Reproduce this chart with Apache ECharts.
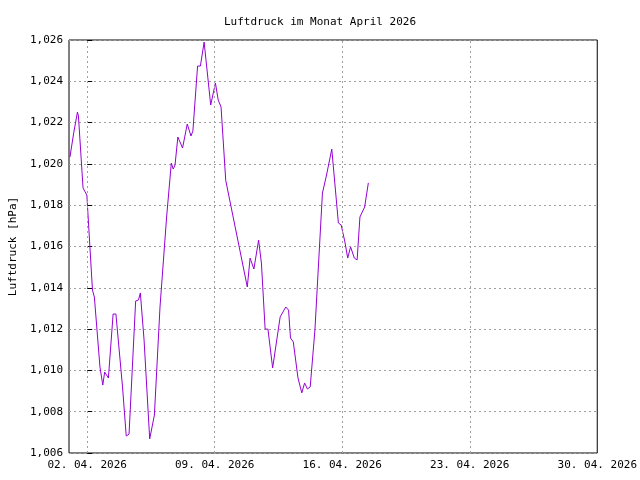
<!DOCTYPE html>
<html>
<head>
<meta charset="utf-8">
<script src="https://cdn.jsdelivr.net/npm/echarts@6/dist/echarts.min.js"></script>
<style>html,body{margin:0;padding:0;background:#fff}#chart{width:640px;height:480px}</style>
</head>
<body>
<div id="chart"></div>
<script>
// Stunden seit 02.04.2026 00:00
var hours = [1.2, 6.2, 11.1, 12.4, 18.5, 23.5, 30.9, 33.4, 40.8, 44.5, 47, 51.9, 58.1, 61.8, 70.5, 75.4, 79.1, 87.8, 91.5, 94, 98.9, 106.3, 112.5, 119.9, 128.6, 134.8, 137.3, 139.7, 143.4, 149.6, 155.8, 160.7, 163.2, 169.4, 173.1, 178, 186.7, 192.9, 196.6, 200.3, 202.8, 206.5, 234.9, 238.6, 241.1, 243.6, 249.8, 253.5, 258.4, 262.1, 268.3, 278.2, 285.6, 289.3, 291.8, 295.5, 301.7, 306.7, 310.4, 314.1, 317.8, 324, 333.9, 338.8, 346.2, 354.9, 358.6, 363.5, 367.2, 371, 375.9, 379.6, 383.3, 389.5, 394.4]
  .map(function (h) { return h - 24; });
var pressure = [1020.33, 1021.5, 1022.51, 1022.32, 1018.83, 1018.49, 1013.89, 1013.55, 1010.16, 1009.29, 1009.92, 1009.63, 1012.73, 1012.73, 1009.2, 1006.82, 1006.92, 1013.36, 1013.41, 1013.75, 1011.47, 1006.68, 1007.84, 1013.07, 1017.43, 1020.04, 1019.75, 1019.95, 1021.3, 1020.77, 1021.93, 1021.35, 1021.59, 1024.74, 1024.74, 1025.9, 1022.85, 1023.92, 1023.09, 1022.76, 1022.76, 1019.2, 1014.04, 1015.44, 1015.49, 1014.91, 1016.31, 1015.2, 1012.0, 1012.0, 1010.12, 1012.59, 1013.07, 1012.92, 1011.57, 1011.38, 1009.63, 1008.91, 1009.39, 1009.1, 1009.2, 1011.96, 1018.59, 1019.37, 1020.72, 1017.14, 1017.04, 1016.22, 1015.44, 1015.98, 1015.44, 1015.35, 1017.43, 1017.91, 1019.08];
var weekLines = [0, 168, 336, 504];
var weekLabels = ['02. 04. 2026', '09. 04. 2026', '16. 04. 2026', '23. 04. 2026', '30. 04. 2026'];

var font = 'DejaVu Sans Mono';
var chart = echarts.init(document.getElementById('chart'));
chart.setOption({
  animation: false,
  textStyle: { fontFamily: font },
  title: {
    text: 'Luftdruck im Monat April 2026', left: 'center', top: 12,
    textStyle: { fontFamily: font, fontSize: 11, fontWeight: 'normal', color: '#000' }
  },
  grid: { left: 58, right: 19, top: 40, bottom: 27, show: true, borderColor: '#000', borderWidth: 1 },
  xAxis: {
    type: 'value', min: -24, max: 672, interval: 24,
    axisLine: { show: false }, axisTick: { show: false }, splitLine: { show: false },
    axisLabel: {
      color: '#000', fontSize: 11, fontFamily: font, margin: 7,
      formatter: function (v) {
        if (v >= 0 && v % 168 === 0) return weekLabels[v / 168];
        return '';
      }
    }
  },
  yAxis: {
    type: 'value', min: 1006, max: 1026, interval: 2,
    name: 'Luftdruck [hPa]', nameLocation: 'middle', nameGap: 42,
    nameTextStyle: { color: '#000', fontSize: 11, fontFamily: font },
    axisLine: { show: false },
    axisTick: { show: true, inside: true, length: 5, lineStyle: { color: '#000' } },
    axisLabel: { color: '#000', fontSize: 11, fontFamily: font, margin: 6 },
    splitLine: { lineStyle: { color: '#a0a0a0', type: [2, 3] } }
  },
  series: [{
    type: 'line', symbol: 'none',
    data: hours.map(function (h, i) { return [h, pressure[i]]; }),
    lineStyle: { color: '#9400d3', width: 1 },
    markLine: {
      silent: true, symbol: 'none', label: { show: false },
      lineStyle: { color: '#a0a0a0', type: [2, 3], width: 1 },
      data: weekLines.map(function (v) { return { xAxis: v }; })
    }
  }]
});
</script>
</body>
</html>
